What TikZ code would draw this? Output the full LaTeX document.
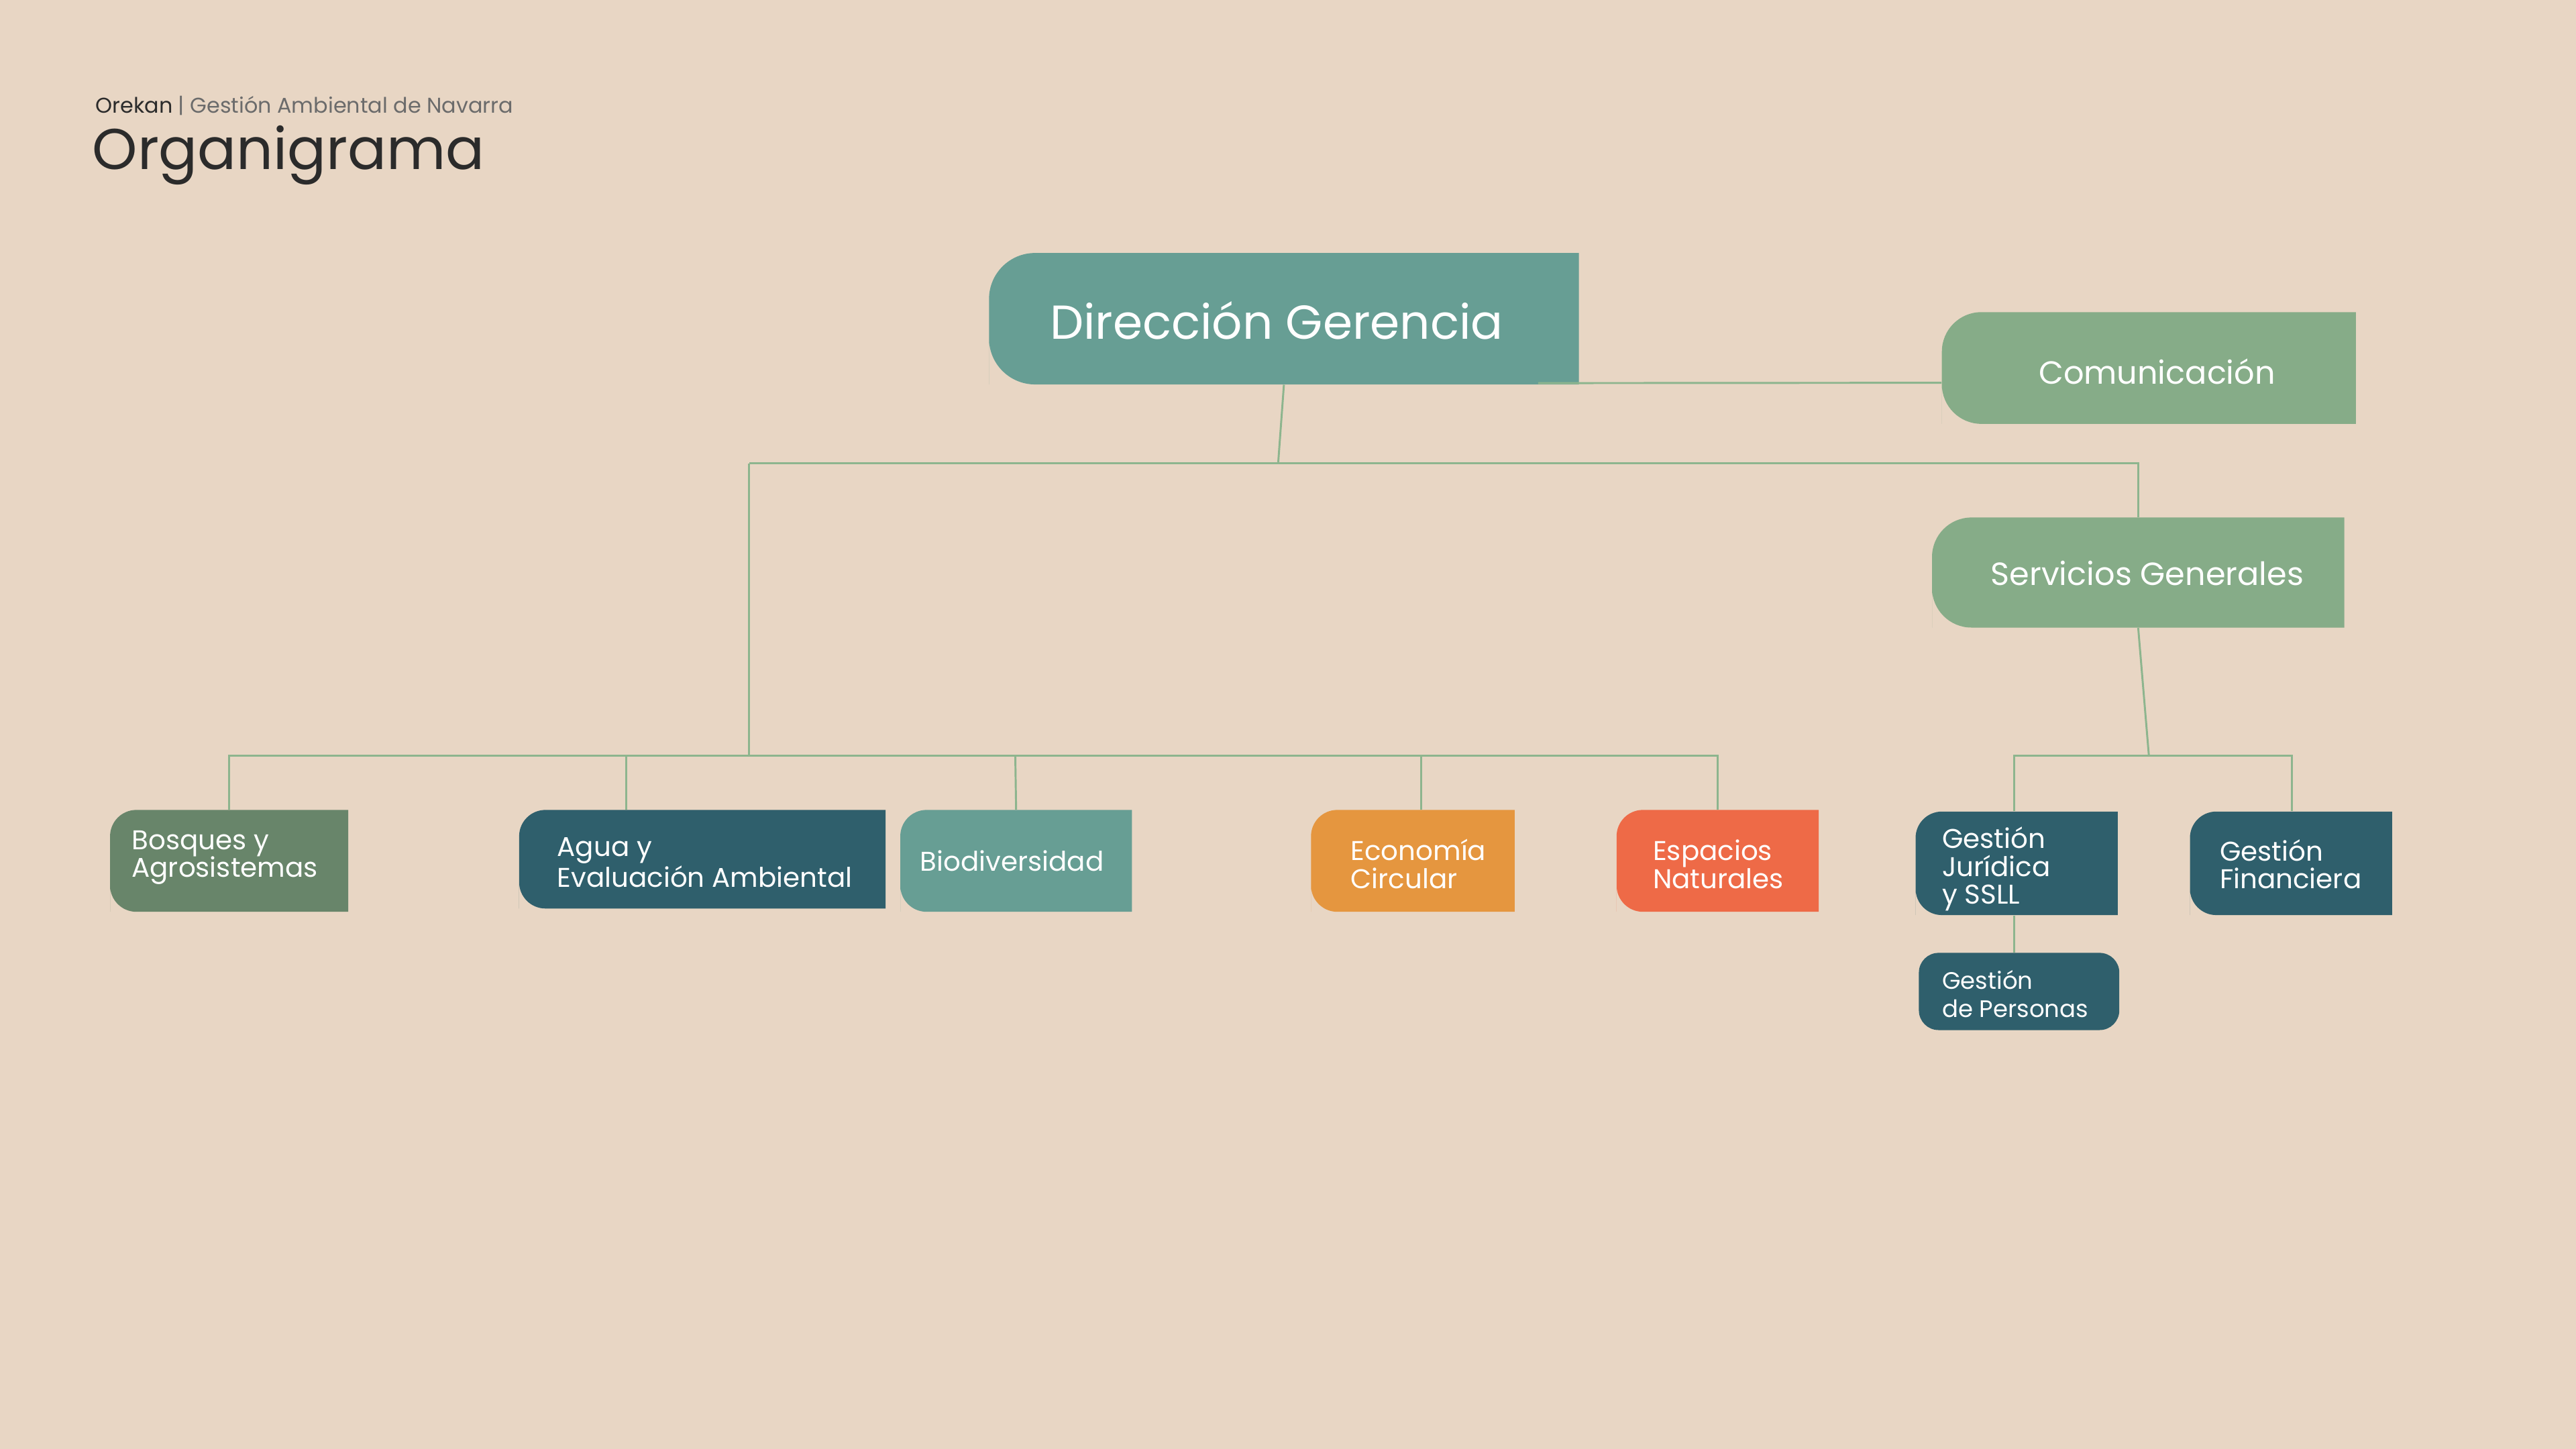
\documentclass[tikz,border=0pt]{standalone}
\usepackage{fontspec}
\setmainfont{Poppins}
\definecolor{bg}{HTML}{E8D6C4}
\definecolor{teal}{HTML}{679E94}
\definecolor{sage}{HTML}{86AC88}
\definecolor{moss}{HTML}{68856A}
\definecolor{navy}{HTML}{2F5F6C}
\definecolor{ochre}{HTML}{E5963F}
\definecolor{coral}{HTML}{EE6A47}
\definecolor{lineg}{HTML}{8DB58E}
\definecolor{ink}{HTML}{2B2B2B}
\tikzset{
  conn/.style={draw=lineg, line width=1.2pt},
  lbl/.style={text=white, anchor=west, align=left, inner sep=0pt},
}
% name, x1, y1, x2, y2, color, radius
\newcommand\leafbox[7]{%
  \fill[#6] (#2,#5) [rounded corners=#7pt] -- (#2,#3) [sharp corners] -- (#4,#3) -- (#4,#5) [rounded corners=#7pt] -- (#2,#5) [sharp corners] -- cycle;
  \node[inner sep=0pt, minimum width={(#4-#2)*1pt}, minimum height={(#5-#3)*1pt}] (#1) at ({(#2+#4)/2},{(#3+#5)/2}) {};
}
\begin{document}
\begin{tikzpicture}[x=1pt,y=-1pt]
\fill[bg] (0,0) rectangle (1568,882);
\useasboundingbox (0,0) rectangle (1568,882);
% header
\node[anchor=base west, inner sep=0pt, font=\fontsize{13}{15}\selectfont] (sub) at (58,69) {\textcolor{ink}{Orekan} \textcolor{ink!70}{| Gestión Ambiental de Navarra}};
\node[anchor=base west, inner sep=0pt, text=ink, font=\fontsize{35}{40}\selectfont] (title) at (56,103) {Organigrama};
% boxes
\leafbox{dg}{602}{154}{961}{234}{teal}{28}
\leafbox{com}{1182}{190}{1434}{258}{sage}{24}
\leafbox{sg}{1176}{315}{1427}{382}{sage}{24}
\leafbox{bos}{67}{493}{212}{555}{moss}{16}
\leafbox{agua}{316}{493}{539}{553}{navy}{16}
\leafbox{bio}{548}{493}{689}{555}{teal}{16}
\leafbox{eco}{798}{493}{922}{555}{ochre}{16}
\leafbox{esp}{984}{493}{1107}{555}{coral}{16}
\leafbox{jur}{1166}{494}{1289}{557}{navy}{16}
\leafbox{fin}{1333}{494}{1456}{557}{navy}{16}
\fill[navy, rounded corners=12pt] (1168,580) rectangle (1290,627);
\node[inner sep=0pt, minimum width=122pt, minimum height=47pt] (per) at (1229,603.5) {};
% labels
\node[text=white, inner sep=0pt, font=\fontsize{29}{32}\selectfont] at (777,195) {Dirección Gerencia};
\node[text=white, inner sep=0pt, font=\fontsize{19.5}{22}\selectfont] at (1313,226) {Comunicación};
\node[text=white, inner sep=0pt, font=\fontsize{19.5}{22}\selectfont] at (1307,349) {Servicios Generales};
\node[lbl, font=\fontsize{16.5}{17}\selectfont] at (80,522) {Bosques y\\Agrosistemas};
\node[lbl, font=\fontsize{16.5}{17}\selectfont] at (339,525) {Agua y\\Evaluación Ambiental};
\node[lbl, font=\fontsize{16.5}{17}\selectfont] at (560,524) {Biodiversidad};
\node[lbl, font=\fontsize{16.5}{17}\selectfont] at (822,526) {Economía\\Circular};
\node[lbl, font=\fontsize{16.5}{17}\selectfont] at (1006,526) {Espacios\\Naturales};
\node[lbl, font=\fontsize{16.5}{17}\selectfont] at (1182,529) {Gestión\\Jurídica\\y SSLL};
\node[lbl, font=\fontsize{16.5}{17}\selectfont] at (1351,526) {Gestión\\Financiera};
\node[lbl, font=\fontsize{14.5}{17}\selectfont] at (1182,605) {Gestión\\de Personas};
% connectors
\coordinate (hub) at (778,282);
\coordinate (lb) at (456,282);
\coordinate (lrow) at (456,460);
\coordinate (srow) at (1308,460);
\draw[conn] (dg.south east) ++(-25,-1) -- (com.west |- 0,233);
\draw[conn] (dg.south) -- (hub);
\draw[conn] (lb) -- (hub) -| (sg.north);
\draw[conn] (lb) -- (lrow);
\draw[conn] (bos.north) |- (lrow) -| (esp.north);
\draw[conn] (agua.north -| 381,0) -- (381,460);
\draw[conn] (bio.north) -- (618,460);
\draw[conn] (eco.north -| 865,0) -- (865,460);
\draw[conn] (sg.south) -- (srow);
\draw[conn] (jur.north -| 1226,0) |- (srow) -| (fin.north -| 1395,0);
\draw[conn] (jur.south -| 1226,0) -- (per.north -| 1226,0);
\end{tikzpicture}
\end{document}
